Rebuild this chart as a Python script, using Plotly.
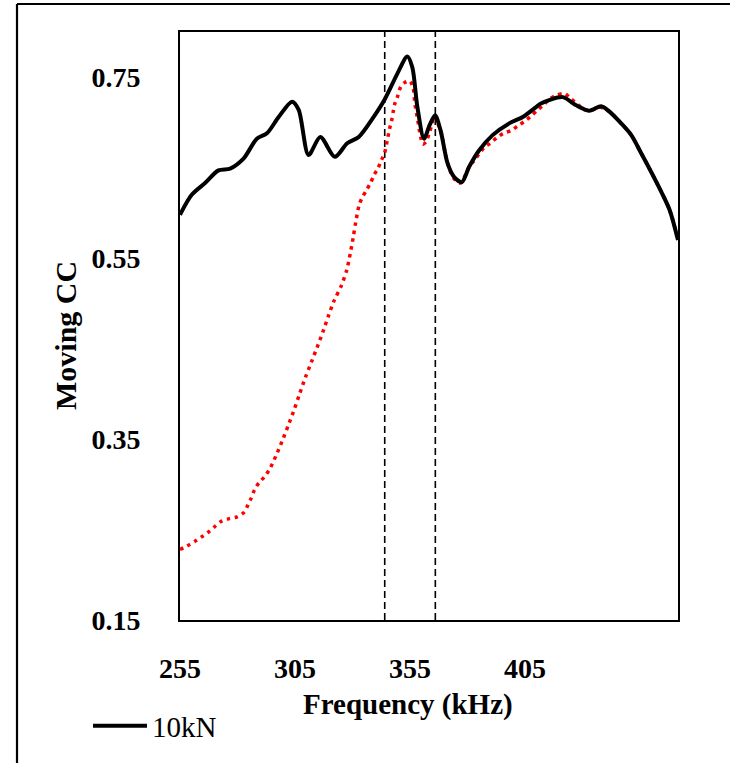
import plotly.graph_objects as go

# Frequency (kHz) and Moving CC values
freq_10kN = [255.0, 260.1, 265.9, 271.7, 276.8, 282.6, 288.4, 292.8, 297.9, 303.7,
             306.6, 310.9, 316.0, 322.3, 327.7, 332.7, 338.6, 344.1, 349.5, 353.8,
             356.0, 358.2, 361.1, 363.5, 365.9, 368.3, 371.3, 374.1, 377.5, 380.7,
             385.0, 390.9, 398.1, 404.0, 409.8, 411.9, 421.4, 427.2, 433.0, 438.1,
             441.7, 446.8, 451.2, 455.5, 459.9, 464.3, 467.9, 471.5]
cc_10kN = [0.598, 0.620, 0.633, 0.647, 0.649, 0.660, 0.682, 0.688, 0.706, 0.723,
           0.714, 0.664, 0.684, 0.662, 0.677, 0.684, 0.704, 0.726, 0.754, 0.773,
           0.761, 0.717, 0.682, 0.697, 0.708, 0.691, 0.655, 0.640, 0.634, 0.651,
           0.669, 0.686, 0.699, 0.706, 0.717, 0.721, 0.728, 0.719, 0.713, 0.718,
           0.712, 0.699, 0.686, 0.666, 0.645, 0.623, 0.603, 0.570]

freq_ref = [255.0, 258.2, 261.5, 264.5, 267.3, 270.0, 272.9, 276.4, 279.8, 282.8,
            284.5, 286.0, 287.4, 289.4, 291.6, 293.8, 296.8, 299.6, 302.2, 304.7,
            307.0, 309.5, 312.1, 314.7, 317.2, 319.5, 322.0, 325.2, 327.5, 329.0,
            330.3, 331.4, 332.9, 334.2, 336.0, 337.8, 339.4, 341.0, 342.5, 343.9,
            345.4, 346.1, 347.0, 347.7, 348.3, 349.5, 350.9, 352.6, 354.8, 356.3,
            357.1, 358.4, 359.6, 360.6, 362.1, 363.7, 365.4, 366.9, 368.3, 371.3,
            374.1, 377.0, 380.7, 382.9, 385.0, 387.2, 389.8, 392.7, 395.6, 398.9,
            401.8, 404.6, 407.6, 410.5, 412.9, 415.7, 418.5, 422.1, 425.0, 427.9,
            430.8, 434.5, 437.3, 441.7, 446.8, 451.2, 455.5, 459.9, 464.3, 467.9,
            471.5]
cc_ref = [0.228, 0.232, 0.237, 0.242, 0.247, 0.253, 0.259, 0.262, 0.264, 0.269,
          0.277, 0.285, 0.294, 0.302, 0.308, 0.316, 0.332, 0.349, 0.366, 0.383,
          0.400, 0.418, 0.435, 0.452, 0.469, 0.486, 0.503, 0.520, 0.537, 0.555,
          0.573, 0.590, 0.609, 0.617, 0.625, 0.633, 0.642, 0.649, 0.658, 0.666,
          0.684, 0.693, 0.702, 0.712, 0.720, 0.728, 0.739, 0.744, 0.746, 0.739,
          0.721, 0.702, 0.684, 0.676, 0.679, 0.691, 0.702, 0.699, 0.691, 0.655,
          0.638, 0.633, 0.651, 0.658, 0.665, 0.672, 0.677, 0.683, 0.688, 0.691,
          0.696, 0.701, 0.707, 0.714, 0.719, 0.726, 0.730, 0.732, 0.726, 0.720,
          0.714, 0.714, 0.717, 0.712, 0.699, 0.686, 0.666, 0.645, 0.623, 0.603,
          0.570]

band_lines = [344, 366]
x_ticks = [255, 305, 355, 405]
y_ticks = [0.15, 0.35, 0.55, 0.75]
x_range = [255, 471.5]
y_range = [0.15, 0.8]

FONT = "Liberation Serif"

fig = go.Figure()
fig.add_trace(go.Scatter(x=freq_ref, y=cc_ref, mode="lines", showlegend=False,
                         line=dict(color="#ff0000", width=3.5, dash="3.5px,4.5px",
                                   shape="spline", smoothing=0.8)))
fig.add_trace(go.Scatter(x=freq_10kN, y=cc_10kN, mode="lines", name="10kN",
                         line=dict(color="black", width=4, shape="spline", smoothing=0.8)))

for xv in band_lines:
    fig.add_shape(type="line", xref="x", yref="paper", x0=xv, x1=xv, y0=0, y1=1,
                  line=dict(color="black", width=1.6, dash="7px,4px"), layer="below")

L, R, T, B = 180, 52, 32, 143
W, H = 730, 763
pw, ph = W - L - R, H - T - B

def px(x):
    return (x - L) / pw

def py(y):
    return (H - B - y) / ph

# outer frame (top and left edges)
fig.add_shape(type="line", xref="paper", yref="paper", x0=px(17), x1=px(732), y0=py(4), y1=py(4),
              line=dict(color="black", width=2.2))
fig.add_shape(type="line", xref="paper", yref="paper", x0=px(17), x1=px(17), y0=py(4), y1=py(765),
              line=dict(color="black", width=2.2))

fig.add_annotation(text="<b>Frequency (kHz)</b>", xref="paper", yref="paper",
                   x=px(408), y=py(704), xanchor="center", yanchor="middle", showarrow=False,
                   font=dict(family=FONT, size=29, color="black"))
fig.add_annotation(text="<b>Moving CC</b>", xref="paper", yref="paper",
                   x=px(65), y=py(336), xanchor="center", yanchor="middle", showarrow=False,
                   textangle=-90, font=dict(family=FONT, size=30, color="black"))

fig.update_layout(
    width=W, height=H,
    margin=dict(l=L, r=R, t=T, b=B, pad=0),
    paper_bgcolor="white", plot_bgcolor="white",
    showlegend=True,
    legend=dict(x=px(88), y=py(726), xanchor="left", yanchor="middle",
                font=dict(family=FONT, size=29, color="black"),
                bgcolor="rgba(0,0,0,0)", itemwidth=54),
    xaxis=dict(range=x_range, tickmode="array", tickvals=x_ticks,
               ticktext=[str(v) for v in x_ticks], showgrid=False, zeroline=False,
               showline=True, mirror=True, linecolor="black", linewidth=2,
               ticks="", ticklabelstandoff=22,
               tickfont=dict(family=FONT, size=28, color="black", weight="bold")),
    yaxis=dict(range=y_range, tickmode="array", tickvals=y_ticks,
               ticktext=[f"{v:.2f}" for v in y_ticks], showgrid=False, zeroline=False,
               showline=True, mirror=True, linecolor="black", linewidth=2,
               ticks="", ticklabelstandoff=32,
               tickfont=dict(family=FONT, size=28, color="black", weight="bold")),
)

fig.write_html("out.html")
